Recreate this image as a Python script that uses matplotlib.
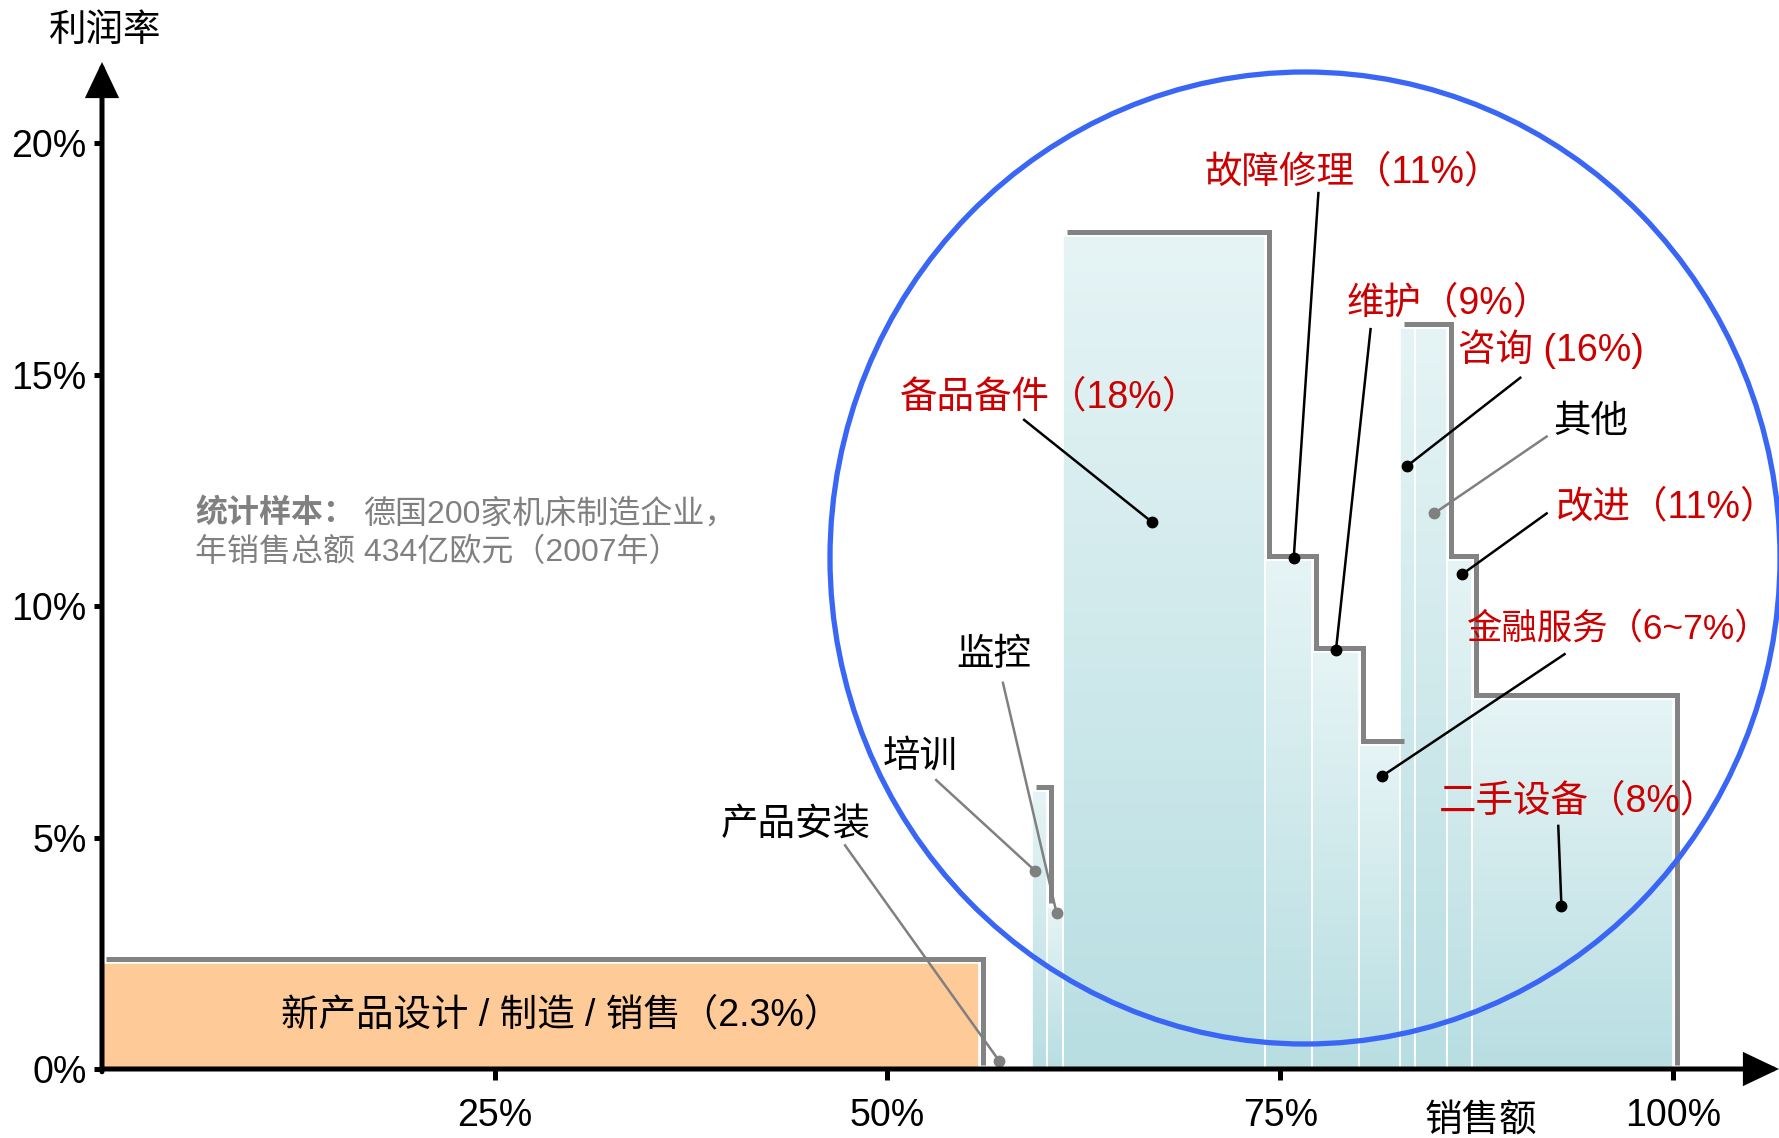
import matplotlib
matplotlib.use("Agg")
import matplotlib.pyplot as plt
import numpy as np
from matplotlib.patches import Rectangle, Ellipse
from matplotlib.transforms import offset_copy
from matplotlib.colors import to_rgb

plt.rcParams['font.family'] = ['Liberation Sans', 'Noto Sans CJK SC']

# ---- data: share of sales (%) and profit margin (%) per business ----
core_label = '新产品设计 / 制造 / 销售（2.3%）'
core_share = 55.8
core_margin = 2.3

service_names = ['培训', '监控', '备品备件', '故障修理', '维护', '金融服务',
                 '咨询', '其他', '改进', '二手设备']
service_first_start = 59.2
service_share = [0.95, 1.05, 12.8, 3.05, 2.95, 2.6, 1.0, 2.0, 1.6, 12.8]
service_margin = [6.0, 3.5, 18.0, 11.0, 9.0, 7.0, 16.0, 16.0, 11.0, 8.0]

x_ticks = [25, 50, 75, 100]
x_tick_labels = ['25%', '50%', '75%', '100%']
y_ticks = [0, 5, 10, 15, 20]
y_tick_labels = ['0%', '5%', '10%', '15%', '20%']

# callouts: text, red or black text, text anchor (left/centre), leader start, anchor point
callout_text = ['故障修理（11%）', '维护（9%）', '咨询 (16%)', '备品备件（18%）', '其他',
                '改进（11%）', '金融服务（6~7%）', '二手设备（8%）', '监控', '培训', '产品安装']
callout_red = [True, True, True, True, False, True, True, True, False, False, False]
callout_size = [27, 27, 27, 27, 27, 27, 25.5, 27, 27, 27, 27]
callout_xy = [(70.2, 19.37), (79.25, 16.54), (86.3, 15.54), (50.8, 14.51), (92.4, 13.97),
              (92.55, 12.14), (86.9, 9.52), (85.1, 5.77), (54.4, 8.95), (49.7, 6.74),
              (39.4, 5.25)]
leader_from = [(77.43, 18.92), (80.75, 15.98), (90.28, 14.93), (58.7, 14.02), (91.96, 13.66),
               (91.96, 12.0), (93.1, 8.96), (92.7, 5.25), (57.35, 8.34), (53.1, 6.24),
               (47.3, 4.83)]
leader_to = [(75.86, 11.04), (78.55, 9.05), (83.06, 13.02), (66.81, 11.82), (84.8, 12.0),
             (86.6, 10.69), (81.5, 6.33), (92.9, 3.52), (60.77, 3.36), (59.4, 4.28),
             (57.1, 0.18)]

RED = '#cc0000'
GREY = '#808080'
OUTLINE = '#838383'
FS = 27

W, H = 1779, 1138
fig = plt.figure(figsize=(W / 100, H / 100), dpi=100)
ax = fig.add_axes([102 / W, (H - 1069) / H, (W - 102) / W, (1069 - 62) / H])
XMAX, YMAX = 106.75, 21.75

# ---- bars ----
service_start = service_first_start + np.concatenate([[0], np.cumsum(service_share)[:-1]])
service_end = service_start + np.array(service_share)

ax.add_patch(Rectangle((0, 0), core_share, core_margin, facecolor='#fdca98',
                       edgecolor='white', lw=1.2, zorder=1))

top_c = np.array(to_rgb('#e6f4f5'))
bot_c = np.array(to_rgb('#b8dee2'))
ramp = np.linspace(0, 1, 256)[:, None, None]
grad_img = top_c + (bot_c - top_c) * ramp
for x0, w, h in zip(service_start, service_share, service_margin):
    ax.imshow(grad_img, extent=[x0, x0 + w, 0, h], origin='upper', aspect='auto',
              interpolation='bilinear', zorder=1)
    ax.add_patch(Rectangle((x0, 0), w, h, fill=False, edgecolor='white', lw=1.2, zorder=1.5))

# ---- stepped grey outline, shifted slightly up-right ----
shift = offset_copy(ax.transData, fig=fig, x=4, y=4, units='dots')


def step_path(idx, drop=None):
    xs, ys = [], []
    for i in idx:
        xs += [service_start[i], service_end[i]]
        ys += [service_margin[i], service_margin[i]]
    if drop is not None:
        xs.append(service_end[idx[-1]])
        ys.append(drop)
    return xs, ys


outline_kw = dict(color=OUTLINE, lw=3.6, solid_joinstyle='miter', solid_capstyle='butt',
                  transform=shift, zorder=3, clip_on=False)
ax.plot([0, core_share, core_share], [core_margin, core_margin, 0], **outline_kw)
ax.plot(*step_path([0], drop=service_margin[1]), **outline_kw)
ax.plot(*step_path([2, 3, 4, 5]), **outline_kw)
ax.plot(*step_path([6, 7, 8, 9], drop=0), **outline_kw)

# ---- highlight ring ----
ring = Ellipse((1305 / W, 1 - 558 / H), 950 / W, 972 / H, transform=fig.transFigure,
               fill=False, edgecolor='#3a66f5', lw=3.8, zorder=4, clip_on=False)
ax.add_patch(ring)

# ---- callouts ----
for txt, red, fs, (tx, ty), (fx, fy), (px, py) in zip(callout_text, callout_red, callout_size,
                                                      callout_xy, leader_from, leader_to):
    lc = 'black' if red else GREY
    ax.plot([fx, px], [fy, py], color=lc, lw=1.8, zorder=5, clip_on=False)
    ax.plot(px, py, 'o', color=lc, ms=7.5, zorder=6, clip_on=False)
    ax.text(tx, ty, txt, color=RED if red else 'black', fontsize=fs,
            ha='left', va='center', zorder=7, clip_on=False)

ax.text(core_share / 2 + 1.3, core_margin / 2, core_label, fontsize=FS,
        ha='center', va='center', color='black', zorder=7)

# ---- axes with arrow heads ----
for sp in ax.spines.values():
    sp.set_visible(False)
arrow_kw = dict(arrowstyle='-|>,head_length=2.0,head_width=0.95', lw=3.6, color='black',
                shrinkA=0, shrinkB=0, mutation_scale=10, joinstyle='miter')
ax.annotate('', xy=(0, YMAX), xytext=(0, -0.06), arrowprops=arrow_kw,
            annotation_clip=False, zorder=8)
ax.annotate('', xy=(XMAX, 0), xytext=(-0.08, 0), arrowprops=arrow_kw,
            annotation_clip=False, zorder=8)

ax.set_xlim(0, XMAX)
ax.set_ylim(0, YMAX)
ax.set_xticks(x_ticks)
ax.set_xticklabels(x_tick_labels)
ax.set_yticks(y_ticks)
ax.set_yticklabels(y_tick_labels)
ax.tick_params(axis='x', direction='out', length=8, width=3.6, pad=13, labelsize=FS)
ax.tick_params(axis='y', direction='out', length=6, width=3.6, pad=5, labelsize=FS)
ax.set_facecolor('white')

fig.text(105.5 / W, 1 - 30.6 / H, '利润率', fontsize=FS, ha='center', va='center')
fig.text(1481 / W, 1 - 1121 / H, '销售额', fontsize=FS, ha='center', va='center')

fig.text(195 / W, 1 - 514 / H, '统计样本：', fontsize=23, color=GREY,
         fontweight='bold', ha='left', va='center')
fig.text(363 / W, 1 - 514 / H, '德国200家机床制造企业，', fontsize=23, color=GREY,
         ha='left', va='center')
fig.text(195 / W, 1 - 552.5 / H, '年销售总额 434亿欧元（2007年）', fontsize=23, color=GREY,
         ha='left', va='center')

fig.savefig('out.png', dpi=100)
